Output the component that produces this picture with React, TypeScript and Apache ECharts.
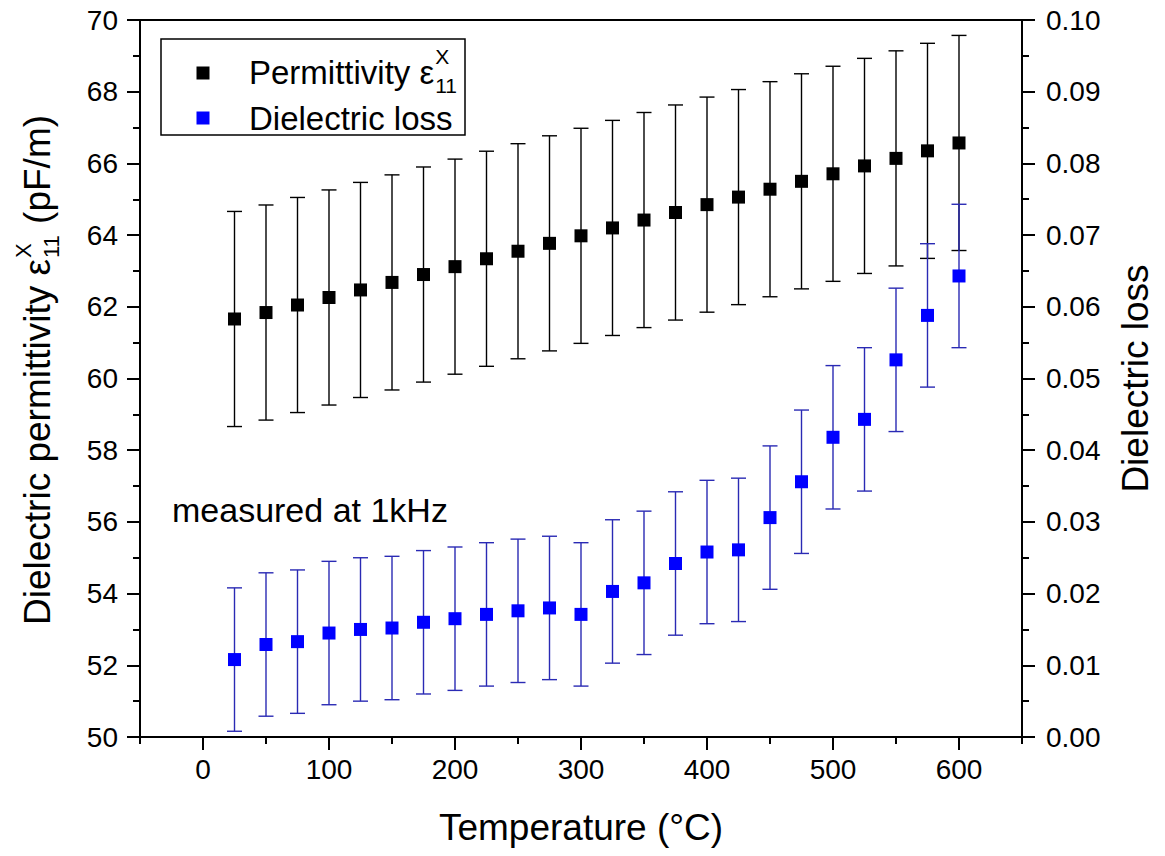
import React, { useEffect, useRef } from "react";
import * as echarts from "echarts";

// ---- data ----
const temperatures = [25, 50, 75, 100, 125, 150, 175, 200, 225, 250, 275, 300, 325, 350, 375, 400, 425, 450, 475, 500, 525, 550, 575, 600];
const permittivity = [61.66, 61.84, 62.05, 62.26, 62.47, 62.68, 62.9, 63.12, 63.34, 63.55, 63.77, 63.98, 64.2, 64.42, 64.63, 64.85, 65.06, 65.28, 65.5, 65.71, 65.93, 66.14, 66.35, 66.57];
const permittivityError = [3, 3, 3, 3, 3, 3, 3, 3, 3, 3, 3, 3, 3, 3, 3, 3, 3, 3, 3, 3, 3, 3, 3, 3];
const dielectricLoss = [0.0108, 0.0129, 0.0133, 0.0145, 0.015, 0.0152, 0.016, 0.0165, 0.0171, 0.0176, 0.018, 0.0171, 0.0203, 0.0215, 0.0242, 0.0258, 0.0261, 0.0306, 0.0356, 0.0418, 0.0443, 0.0526, 0.0588, 0.0643];
const lossError = [0.01, 0.01, 0.01, 0.01, 0.01, 0.01, 0.01, 0.01, 0.01, 0.01, 0.01, 0.01, 0.01, 0.01, 0.01, 0.01, 0.01, 0.01, 0.01, 0.01, 0.01, 0.01, 0.01, 0.01];
const xMajorTicks = [0, 100, 200, 300, 400, 500, 600];
const xMinorTicks = [-50, 50, 150, 250, 350, 450, 550, 650];

const FONT = '"Liberation Sans", Arial, Helvetica, sans-serif';
const BLACK = "#000000";
const BLUE = "#0000ff";
const BLUE_BAR = "#2a2ab4";

function measure(text: string, size: number): number {
  const ctx = document.createElement("canvas").getContext("2d");
  if (!ctx) return text.length * size * 0.55;
  ctx.font = `${size}px ${FONT}`;
  return ctx.measureText(text).width;
}

function errorBarSeries(name: string, values: number[], errors: number[], yAxisIndex: number, color: string) {
  return {
    type: "custom",
    name,
    xAxisIndex: 0,
    yAxisIndex,
    silent: true,
    z: 2,
    data: temperatures.map((t, i) => [t, values[i] - errors[i], values[i] + errors[i]]),
    encode: { x: 0, y: [1, 2] },
    renderItem: (_params: any, api: any) => {
      const lo = api.coord([api.value(0), api.value(1)]);
      const hi = api.coord([api.value(0), api.value(2)]);
      const hw = 7.5;
      const style = { stroke: color, lineWidth: 1.4, fill: "none" };
      return {
        type: "group",
        children: [
          { type: "line", shape: { x1: lo[0], y1: lo[1], x2: hi[0], y2: hi[1] }, style },
          { type: "line", shape: { x1: lo[0] - hw, y1: lo[1], x2: lo[0] + hw, y2: lo[1] }, style },
          { type: "line", shape: { x1: hi[0] - hw, y1: hi[1], x2: hi[0] + hw, y2: hi[1] }, style },
        ],
      };
    },
  };
}

export default function App() {
  const ref = useRef<HTMLDivElement>(null);

  useEffect(() => {
    document.body.style.margin = "0";
    if (!ref.current) return;
    const chart = echarts.init(ref.current, null, { renderer: "svg" });

    const axisLine = { show: true, onZero: false, lineStyle: { color: BLACK, width: 2 } };
    const tickStyle = { color: BLACK, width: 2 };

    // left title pieces
    const titleSize = 37;
    const subSize = 22;
    const mainTitle = "Dielectric permittivity ε";
    const mainW = measure(mainTitle, titleSize);
    const subW = measure("11", subSize);

    // legend pieces
    const legSize = 33;
    const legMain = "Permittivity ε";
    const legMainW = measure(legMain, legSize);

    const option: any = {
      animation: false,
      backgroundColor: "#ffffff",
      textStyle: { fontFamily: FONT, color: BLACK },
      grid: {
        left: 140,
        right: 143,
        top: 20,
        bottom: 119,
        show: true,
        borderColor: BLACK,
        borderWidth: 2,
        backgroundColor: "transparent",
      },
      xAxis: [
        {
          type: "value",
          position: "bottom",
          min: -50,
          max: 650,
          splitLine: { show: false },
          axisLine,
          axisTick: { show: true, inside: false, length: 13, lineStyle: tickStyle, customValues: xMajorTicks },
          axisLabel: { show: true, customValues: xMajorTicks, fontSize: 28, color: BLACK, fontFamily: FONT, margin: 18 },
          name: "Temperature (°C)",
          nameLocation: "middle",
          nameGap: 72,
          nameTextStyle: { fontSize: 37, color: BLACK, fontFamily: FONT },
        },
        {
          type: "value",
          position: "bottom",
          min: -50,
          max: 650,
          splitLine: { show: false },
          axisLine: { show: false, onZero: false },
          axisTick: { show: true, inside: false, length: 7, lineStyle: tickStyle, customValues: xMinorTicks },
          axisLabel: { show: false },
        },
      ],
      yAxis: [
        {
          type: "value",
          position: "left",
          min: 50,
          max: 70,
          interval: 2,
          splitLine: { show: false },
          axisLine,
          axisTick: { show: true, inside: false, length: 13, lineStyle: tickStyle },
          minorTick: { show: true, splitNumber: 2, length: 7, lineStyle: tickStyle },
          axisLabel: { fontSize: 28, color: BLACK, fontFamily: FONT, margin: 22 },
        },
        {
          type: "value",
          position: "right",
          min: 0,
          max: 0.1,
          interval: 0.01,
          splitLine: { show: false },
          axisLine,
          axisTick: { show: true, inside: false, length: 13, lineStyle: tickStyle },
          minorTick: { show: true, splitNumber: 2, length: 7, lineStyle: tickStyle },
          axisLabel: {
            fontSize: 28,
            color: BLACK,
            fontFamily: FONT,
            margin: 24,
            formatter: (v: number) => v.toFixed(2),
          },
          name: "Dielectric loss",
          nameLocation: "middle",
          nameRotate: 90,
          nameGap: 95,
          nameTextStyle: { fontSize: 37, color: BLACK, fontFamily: FONT },
        },
      ],
      series: [
        errorBarSeries("Permittivity error", permittivity, permittivityError, 0, BLACK),
        errorBarSeries("Dielectric loss error", dielectricLoss, lossError, 1, BLUE_BAR),
        {
          type: "scatter",
          name: "Permittivity",
          xAxisIndex: 0,
          yAxisIndex: 0,
          symbol: "rect",
          symbolSize: 13,
          z: 3,
          itemStyle: { color: BLACK, opacity: 1 },
          data: temperatures.map((t, i) => [t, permittivity[i]]),
        },
        {
          type: "scatter",
          name: "Dielectric loss",
          xAxisIndex: 0,
          yAxisIndex: 1,
          symbol: "rect",
          symbolSize: 13,
          z: 3,
          itemStyle: { color: BLUE, opacity: 1 },
          data: temperatures.map((t, i) => [t, dielectricLoss[i]]),
        },
      ],
      graphic: [
        // legend box
        {
          type: "rect",
          z: 10,
          shape: { x: 161, y: 39, width: 304, height: 96 },
          style: { fill: "#ffffff", stroke: BLACK, lineWidth: 1.5 },
        },
        {
          type: "rect",
          z: 11,
          shape: { x: 196.5, y: 66.5, width: 13, height: 13 },
          style: { fill: BLACK },
        },
        {
          type: "text",
          z: 11,
          x: 249,
          y: 72,
          style: { text: legMain, fontSize: legSize, fontFamily: FONT, fill: BLACK, align: "left", verticalAlign: "middle" },
        },
        {
          type: "text",
          z: 11,
          x: 249 + legMainW + 1,
          y: 56,
          style: { text: "X", fontSize: 21, fontFamily: FONT, fill: BLACK, align: "left", verticalAlign: "middle" },
        },
        {
          type: "text",
          z: 11,
          x: 249 + legMainW + 1,
          y: 85,
          style: { text: "11", fontSize: 21, fontFamily: FONT, fill: BLACK, align: "left", verticalAlign: "middle" },
        },
        {
          type: "rect",
          z: 11,
          shape: { x: 196.5, y: 111.5, width: 13, height: 13 },
          style: { fill: BLUE },
        },
        {
          type: "text",
          z: 11,
          x: 249,
          y: 118,
          style: { text: "Dielectric loss", fontSize: legSize, fontFamily: FONT, fill: BLACK, align: "left", verticalAlign: "middle" },
        },
        // annotation
        {
          type: "text",
          z: 11,
          x: 172,
          y: 510,
          style: { text: "measured at 1kHz", fontSize: 34, fontFamily: FONT, fill: BLACK, align: "left", verticalAlign: "middle" },
        },
        // left axis title (rotated)
        {
          type: "group",
          x: 37,
          y: 625,
          rotation: Math.PI / 2,
          children: [
            {
              type: "text",
              x: 0,
              y: 0,
              style: { text: mainTitle, fontSize: titleSize, fontFamily: FONT, fill: BLACK, align: "left", verticalAlign: "middle" },
            },
            {
              type: "text",
              x: mainW + 1,
              y: -14,
              style: { text: "X", fontSize: subSize, fontFamily: FONT, fill: BLACK, align: "left", verticalAlign: "middle" },
            },
            {
              type: "text",
              x: mainW + 1,
              y: 14,
              style: { text: "11", fontSize: subSize, fontFamily: FONT, fill: BLACK, align: "left", verticalAlign: "middle" },
            },
            {
              type: "text",
              x: mainW + subW + 2,
              y: 0,
              style: { text: " (pF/m)", fontSize: titleSize, fontFamily: FONT, fill: BLACK, align: "left", verticalAlign: "middle" },
            },
          ],
        },
      ],
    };

    chart.setOption(option);
    return () => chart.dispose();
  }, []);

  return <div ref={ref} style={{ width: 1165, height: 856 }} />;
}
